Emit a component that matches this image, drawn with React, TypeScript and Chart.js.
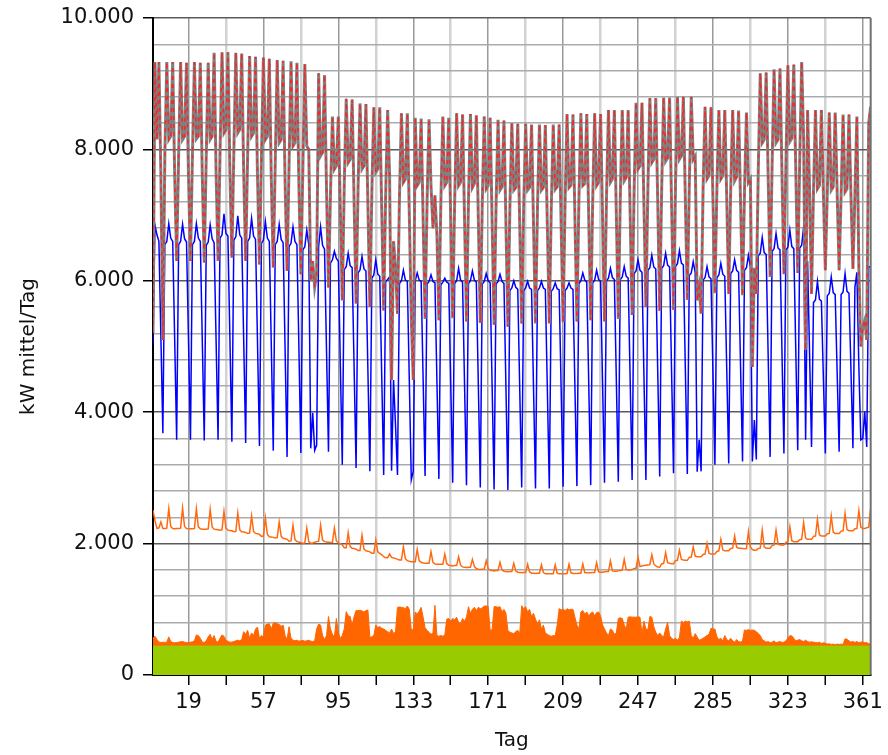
import React, { useEffect, useRef } from 'react';
import { Chart, registerables } from 'chart.js';

Chart.register(...registerables);

// Day 1 .. 365, one value per day (rows = calendar weeks Mon..Sun, first row starts Tuesday)
const firstDay = 1;

const totalValues = [
  5200, 9330, 8150, 9330, 7600, 5100,
  7900, 9330, 8150, 8200, 9330, 7600, 6300,
  7900, 9330, 8150, 8200, 9320, 7600, 6300,
  7900, 9330, 8160, 8200, 9320, 7600, 6280,
  7890, 9320, 8150, 8200, 9470, 7650, 6300,
  7950, 9480, 8250, 8300, 9480, 7680, 6350,
  7950, 9470, 8250, 8300, 9460, 7650, 6300,
  7900, 9420, 8200, 8250, 9410, 7600, 6250,
  7850, 9400, 8150, 8200, 9380, 7550, 6200,
  7800, 9360, 8100, 8150, 9350, 7500, 6150,
  7750, 9340, 8050, 8100, 9320, 7450, 6100,
  7700, 9300, 8050, 8000, 6000, 6300, 5900,
  6100, 9160, 7900, 7950, 9130, 7400, 5900,
  7300, 8500, 7700, 7750, 8500, 7100, 5700,
  7450, 8770, 7800, 7850, 8760, 7200, 5650,
  7400, 8700, 7700, 7750, 8690, 7150, 5600,
  7350, 8640, 7650, 7700, 8640, 7100, 5550,
  7300, 8600, 7600, 4490, 6600, 6200, 5500,
  7250, 8550, 7500, 7550, 8550, 7000, 5450,
  4490, 8480, 7450, 7500, 8470, 6950, 5420,
  7200, 8460, 7450, 6800, 7300, 6700, 5400,
  7200, 8500, 7450, 7500, 8480, 6950, 5430,
  7200, 8550, 7450, 7500, 8530, 6950, 5380,
  7200, 8540, 7420, 7480, 8520, 6950, 5360,
  7180, 8500, 7400, 7450, 8480, 6900, 5330,
  7150, 8450, 7380, 7430, 8440, 6880, 5300,
  7100, 8400, 7380, 7420, 8390, 6850, 5350,
  7100, 8390, 7380, 7420, 8380, 6850, 5350,
  7100, 8380, 7380, 7420, 8370, 6850, 5350,
  7100, 8380, 7390, 7430, 8380, 6850, 5370,
  7180, 8540, 7420, 7460, 8530, 6950, 5380,
  7200, 8550, 7450, 7480, 8540, 6950, 5400,
  7200, 8550, 7450, 7500, 8540, 6970, 5380,
  7250, 8600, 7500, 7550, 8600, 7000, 5420,
  7250, 8600, 7520, 7570, 8600, 7020, 5480,
  7350, 8710, 7700, 7750, 8710, 7150, 5600,
  7400, 8780, 7800, 7850, 8780, 7200, 5540,
  7400, 8790, 7820, 7870, 8790, 7200, 5560,
  7450, 8800, 7850, 7900, 8800, 7250, 5710,
  7450, 8800, 7850, 7900, 5700, 5900, 5500,
  7400, 8650, 7550, 7600, 8640, 7250, 5810,
  7400, 8600, 7550, 7600, 8600, 7250, 5800,
  7380, 8600, 7520, 7580, 8590, 7200, 5780,
  7350, 8560, 7500, 7550, 4690, 6200, 5800,
  7700, 9160, 8100, 8150, 9170, 7600, 6060,
  7750, 9220, 8100, 8150, 9230, 7650, 6100,
  7750, 9280, 8120, 8170, 9290, 7700, 6120,
  7800, 9330, 8150, 4950, 8600, 7400, 5800,
  7350, 8600, 7400, 7450, 8600, 7350, 6160,
  7350, 8560, 7380, 7430, 8560, 7350, 6160,
  7300, 8530, 7350, 7400, 8530, 7300, 6180,
  7300, 8500, 6200, 5000, 5300, 5400, 5100,
  8400, 8650,
];

const blueValues = [
  5050, 6850, 6700, 6600, 5150, 3680,
  6550, 6600, 6870, 6650, 6600, 5100, 3580,
  6550, 6600, 6860, 6640, 6590, 5100, 3580,
  6550, 6600, 6870, 6650, 6600, 5090, 3570,
  6540, 6590, 6850, 6640, 6580, 5090, 3580,
  6650, 6700, 7020, 6720, 6680, 5130, 3550,
  6620, 6670, 6990, 6700, 6650, 5100, 3530,
  6600, 6650, 6950, 6680, 6630, 5070, 3485,
  6570, 6620, 6900, 6650, 6600, 5010, 3415,
  6550, 6600, 6860, 6630, 6580, 4950, 3320,
  6520, 6570, 6820, 6600, 6550, 4980, 3380,
  6470, 6520, 6770, 6550, 3450, 3990, 3420,
  3500, 6520, 6820, 6540, 6480, 4950, 3400,
  6270, 6320, 6450, 6340, 6300, 4750, 3200,
  6170, 6215, 6420, 6230, 6200, 4680, 3150,
  6120, 6165, 6370, 6180, 6150, 4630, 3100,
  6040, 6090, 6320, 6100, 6070, 4560, 3045,
  5990, 6020, 6060, 3110, 4490, 3800, 3045,
  5960, 6000, 6160, 6010, 5990, 4480, 2970,
  3100, 6000, 6120, 6010, 5990, 4510, 3030,
  5950, 5990, 6090, 5990, 5970, 4480, 2985,
  5940, 5980, 6040, 5980, 5960, 4440, 2925,
  5960, 6000, 6190, 6010, 5980, 4440, 2890,
  5960, 6000, 6150, 6010, 5980, 4420, 2855,
  5950, 5990, 6110, 6000, 5970, 4400, 2825,
  5950, 5990, 6100, 5990, 5960, 4390, 2815,
  5850, 5890, 6000, 5900, 5870, 4360, 2855,
  5850, 5890, 5990, 5890, 5870, 4370, 2840,
  5850, 5890, 5990, 5890, 5870, 4360, 2840,
  5840, 5880, 5970, 5880, 5860, 4360, 2865,
  5850, 5890, 5970, 5890, 5870, 4380, 2875,
  5960, 6000, 6120, 6010, 5980, 4440, 2890,
  5970, 6010, 6160, 6020, 5990, 4470, 2925,
  6000, 6040, 6190, 6050, 6020, 4490, 2940,
  6020, 6060, 6215, 6070, 6040, 4510, 2970,
  6110, 6150, 6320, 6160, 6130, 4560, 2970,
  6160, 6200, 6390, 6210, 6180, 4610, 3020,
  6190, 6230, 6420, 6240, 6210, 4650, 3070,
  6220, 6260, 6460, 6270, 6240, 4660, 3060,
  6080, 6120, 6290, 6130, 3095, 3580, 3100,
  6010, 6050, 6215, 6060, 6030, 4620, 3200,
  6050, 6090, 6265, 6100, 6070, 4650, 3220,
  6110, 6150, 6320, 6160, 6130, 4700, 3250,
  6160, 6200, 6390, 6210, 3250, 3880, 3280,
  6380, 6420, 6660, 6430, 6400, 4870, 3320,
  6450, 6490, 6720, 6500, 6470, 4930, 3370,
  6470, 6510, 6770, 6520, 6490, 4960, 3420,
  6500, 6540, 6820, 3580, 6300, 4900, 3470,
  5670, 5710, 5990, 5720, 5690, 4540, 3370,
  5770, 5810, 6060, 5820, 5790, 4600, 3400,
  5790, 5830, 6110, 5840, 5810, 4640, 3450,
  5900, 6130, 4700, 3580, 3600, 4010, 3470,
  6215, 6215,
];

const orangeLineValues = [
  2510, 2350, 2230, 2240, 2330, 2230,
  2230, 2235, 2530, 2260, 2230, 2225, 2230,
  2230, 2235, 2540, 2260, 2230, 2225, 2225,
  2225, 2230, 2530, 2255, 2225, 2220, 2220,
  2220, 2225, 2520, 2250, 2220, 2215, 2210,
  2205, 2210, 2490, 2235, 2205, 2200, 2195,
  2180, 2185, 2465, 2210, 2180, 2175, 2170,
  2155, 2160, 2420, 2185, 2155, 2150, 2140,
  2110, 2115, 2390, 2140, 2105, 2100, 2095,
  2085, 2090, 2330, 2110, 2080, 2075, 2065,
  2035, 2040, 2280, 2060, 2030, 2025, 2015,
  2005, 2010, 2235, 2030, 2005, 2010, 2020,
  2030, 2035, 2280, 2055, 2030, 2025, 2020,
  2015, 2020, 2235, 2040, 2010, 2000, 1980,
  1935, 1935, 2165, 1955, 1930, 1925, 1915,
  1895, 1895, 2130, 1915, 1890, 1885, 1875,
  1855, 1855, 2055, 1875, 1850, 1830, 1800,
  1785, 1785, 1840, 1790, 1780, 1775, 1760,
  1750, 1750, 1950, 1770, 1740, 1730, 1725,
  1725, 1725, 1910, 1740, 1715, 1705, 1700,
  1700, 1700, 1875, 1715, 1690, 1685, 1685,
  1685, 1685, 1840, 1695, 1670, 1665, 1660,
  1665, 1665, 1800, 1675, 1645, 1640, 1635,
  1640, 1640, 1760, 1650, 1620, 1610, 1605,
  1610, 1610, 1740, 1620, 1595, 1590, 1585,
  1590, 1590, 1715, 1600, 1580, 1575, 1570,
  1575, 1575, 1700, 1585, 1565, 1560, 1555,
  1560, 1560, 1685, 1570, 1550, 1550, 1545,
  1550, 1550, 1675, 1560, 1540, 1540, 1540,
  1540, 1540, 1675, 1550, 1540, 1540, 1540,
  1540, 1545, 1685, 1555, 1545, 1545, 1545,
  1550, 1550, 1690, 1560, 1555, 1555, 1555,
  1560, 1560, 1710, 1570, 1565, 1565, 1570,
  1575, 1575, 1735, 1585, 1580, 1580, 1585,
  1590, 1595, 1760, 1605, 1600, 1600, 1605,
  1620, 1625, 1790, 1650, 1660, 1665, 1670,
  1675, 1680, 1830, 1690, 1660, 1645, 1640,
  1690, 1700, 1860, 1710, 1700, 1695, 1695,
  1740, 1745, 1900, 1760, 1750, 1745, 1745,
  1790, 1795, 1950, 1810, 1800, 1800, 1800,
  1835, 1840, 2005, 1855, 1840, 1840, 1840,
  1880, 1890, 2065, 1905, 1890, 1890, 1890,
  1925, 1930, 2115, 1945, 1930, 1930, 1925,
  1920, 1925, 2180, 1945, 1910, 1900, 1900,
  1925, 1930, 2205, 1950, 1930, 1930, 1930,
  1970, 1980, 2205, 1995, 1980, 1980, 1980,
  2020, 2030, 2255, 2045, 2030, 2030, 2030,
  2060, 2065, 2320, 2085, 2065, 2065, 2065,
  2110, 2115, 2370, 2135, 2115, 2115, 2115,
  2150, 2155, 2420, 2175, 2155, 2155, 2155,
  2190, 2195, 2460, 2215, 2195, 2195, 2195,
  2225, 2230, 2500, 2250, 2230, 2230, 2240,
  2250, 2540,
];

const orangeAreaValues = [
  560, 590, 540, 500, 495, 500,
  495, 500, 580, 510, 495, 490, 495,
  500, 505, 510, 500, 495, 490, 500,
  505, 520, 610, 600, 560, 500, 495,
  520, 580, 620, 540, 600, 510, 500,
  560, 610, 590, 530, 510, 500, 500,
  510, 520, 530, 520, 540, 660, 620,
  680, 560, 640, 600, 700, 730, 560,
  600, 580, 760, 775, 780, 700, 790,
  795, 780, 770, 740, 760, 600, 540,
  735, 560, 530, 520, 530, 515, 520,
  525, 515, 520, 530, 515, 510, 520,
  700, 775, 760, 600, 540, 600, 890,
  700, 620, 580, 860, 640, 560, 600,
  700, 965, 900, 890, 760, 890, 980,
  980, 985, 975, 960, 980, 990, 570,
  583, 600, 760, 720, 740, 710, 700,
  680, 660, 640, 700, 630, 660, 1030,
  1035, 1030, 1025, 1010, 1050, 1000, 685,
  690, 960, 930, 970, 1030, 880, 720,
  680, 650, 620, 640, 1060, 600, 590,
  600, 590, 610, 850, 860, 820, 860,
  840, 880, 800, 780, 860, 820, 880,
  1040, 940, 1000, 1030, 980, 1030, 1010,
  1020, 1050, 1050, 1045, 680, 690, 1040,
  1040, 1030, 1040, 960, 1000, 940, 680,
  650, 640, 630, 660, 680, 630, 1055,
  1010, 1040, 960, 1000, 890, 940, 850,
  780, 840, 700, 760, 640, 620, 600,
  590, 600, 600, 760, 1010, 990, 1000,
  980, 1010, 990, 1000, 1000, 880, 760,
  700, 960, 980, 930, 960, 900, 940,
  960, 900, 950, 960, 900, 760, 700,
  640, 600, 700, 680, 620, 640, 860,
  870, 860, 760, 700, 880, 885, 880,
  880, 880, 885, 880, 635, 820, 700,
  690, 890, 880, 735, 650, 600, 640,
  600, 580, 700, 800, 600, 560, 540,
  560, 530, 570, 820, 800, 820, 810,
  820, 600, 560, 630, 580, 530, 540,
  560, 580, 600, 620, 710, 700, 700,
  580, 540, 560, 520, 600, 540, 520,
  560, 520, 500, 540, 510, 500, 520,
  685, 680, 690, 680, 685, 680, 660,
  630, 600, 540, 520, 500, 510, 490,
  500, 520, 490, 500, 510, 495, 500,
  520, 560, 600, 595, 560, 520, 530,
  540, 520, 510, 530, 510, 500, 505,
  500, 495, 490, 500, 480, 490, 485,
  470, 475, 465, 470, 460, 470, 465,
  470, 465, 550, 545, 520, 500, 510,
  495, 510, 490, 500, 505, 490, 495,
  475, 470,
];

const baseLoadDays = [1, 365];
const baseLoadValues = [440, 440];

const xTickValues = [19, 38, 57, 76, 95, 114, 133, 152, 171, 190, 209, 228, 247, 266, 285, 304, 323, 342, 361];
const xTickLabels = [19, 57, 95, 133, 171, 209, 247, 285, 323, 361];
const yLabelValues = [0, 2000, 4000, 6000, 8000, 10000];
const yLabelTexts = ['0', '2.000', '4.000', '6.000', '8.000', '10.000'];

const FONT = "'DejaVu Sans', 'Noto Sans', sans-serif";

function toPoints(values: number[]) {
  return values.map((y, i) => ({ x: firstDay + i, y }));
}

const framePlugin = {
  id: 'rightFrame',
  afterDraw(chart: any) {
    const { ctx, chartArea } = chart;
    ctx.save();
    ctx.strokeStyle = '#707070';
    ctx.lineWidth = 2;
    ctx.beginPath();
    ctx.moveTo(chartArea.right, chartArea.top);
    ctx.lineTo(chartArea.right, chartArea.bottom);
    ctx.stroke();
    ctx.restore();
  },
};

export default function App() {
  const ref = useRef<HTMLCanvasElement>(null);

  useEffect(() => {
    if (!ref.current) return;
    const chart = new Chart(ref.current, {
      type: 'line',
      data: {
        datasets: [
          {
            label: 'rot',
            data: toPoints(totalValues),
            borderColor: 'rgba(255,30,30,0.9)',
            borderWidth: 1.5,
            borderDash: [4, 4],
            pointRadius: 0,
            fill: false,
          },
          {
            label: 'grau',
            data: toPoints(totalValues),
            borderColor: '#808080',
            borderWidth: 3,
            pointRadius: 0,
            fill: false,
          },
          {
            label: 'blau',
            data: toPoints(blueValues),
            borderColor: '#0000ff',
            borderWidth: 1.5,
            pointRadius: 0,
            fill: false,
          },
          {
            label: 'orange',
            data: toPoints(orangeLineValues),
            borderColor: '#ff6a10',
            borderWidth: 1.5,
            pointRadius: 0,
            fill: false,
          },
          {
            label: 'grün',
            data: baseLoadDays.map((x, i) => ({ x, y: baseLoadValues[i] })),
            borderColor: '#99cc00',
            backgroundColor: '#99cc00',
            borderWidth: 1,
            pointRadius: 0,
            fill: 'origin',
          },
          {
            label: 'orange Fläche',
            data: toPoints(orangeAreaValues),
            borderColor: '#ff6600',
            backgroundColor: '#ff6600',
            borderWidth: 1,
            pointRadius: 0,
            fill: 'origin',
          },
        ],
      },
      options: {
        responsive: false,
        animation: false,
        devicePixelRatio: 1,
        layout: { padding: { top: 18, right: 15, left: 0, bottom: 0 } },
        plugins: {
          legend: { display: false },
          tooltip: { enabled: false },
        },
        elements: { line: { tension: 0 }, point: { radius: 0 } },
        scales: {
          x: {
            type: 'linear',
            min: 1,
            max: 365,
            afterBuildTicks: (axis: any) => {
              axis.ticks = xTickValues.map((v) => ({ value: v }));
            },
            afterFit: (axis: any) => {
              axis.height = 80;
            },
            ticks: {
              autoSkip: false,
              maxRotation: 0,
              padding: 5,
              color: '#111',
              font: { family: FONT, size: 21 },
              callback: (v: any) => (xTickLabels.includes(Number(v)) ? String(v) : ''),
            },
            grid: {
              color: (c: any) => (c.tick && xTickLabels.includes(c.tick.value) ? '#9a9a9a' : '#d2d2d2'),
              lineWidth: (c: any) => (c.tick && xTickLabels.includes(c.tick.value) ? 1.5 : 2.5),
              tickLength: 10,
              tickColor: '#000',
              tickWidth: 1.5,
            },
            border: { display: true, color: '#000', width: 2 },
            title: {
              display: true,
              text: 'Tag',
              color: '#111',
              font: { family: FONT, size: 20 },
              padding: { top: 0, bottom: 2 },
            },
          },
          y: {
            min: 0,
            max: 10000,
            afterFit: (axis: any) => {
              axis.width = 153;
              axis.paddingTop = 0;
              axis.paddingBottom = 0;
            },
            ticks: {
              stepSize: 400,
              autoSkip: false,
              padding: 9,
              color: '#111',
              font: { family: FONT, size: 21 },
              callback: (v: any) => {
                const idx = yLabelValues.indexOf(Number(v));
                return idx >= 0 ? yLabelTexts[idx] : '';
              },
            },
            grid: {
              color: (c: any) => (c.tick && c.tick.value % 2000 === 0 ? '#5a5a5a' : '#ababab'),
              lineWidth: 1.5,
              tickLength: 10,
              tickColor: (c: any) => (c.tick && c.tick.value % 2000 === 0 ? '#000' : 'rgba(0,0,0,0)'),
              tickWidth: 1.5,
            },
            border: { display: true, color: '#000', width: 2 },
            title: {
              display: true,
              text: 'kW mittel/Tag',
              color: '#111',
              font: { family: FONT, size: 20 },
              padding: { top: 17, bottom: 0 },
            },
          },
        },
      },
      plugins: [framePlugin],
    } as any);
    return () => chart.destroy();
  }, []);

  return (
    <div style={{ position: 'absolute', left: 0, top: 0, width: 888, height: 755, background: '#fff' }}>
      <canvas ref={ref} width={888} height={755} style={{ display: 'block' }} />
    </div>
  );
}
